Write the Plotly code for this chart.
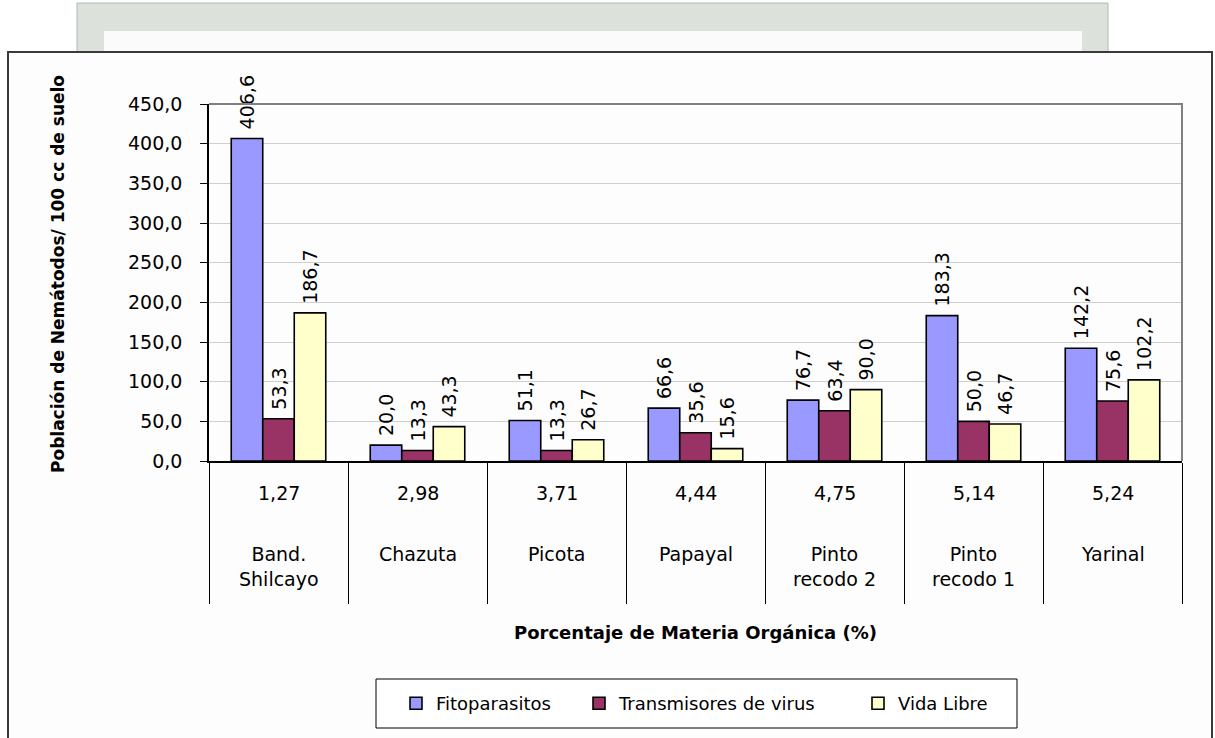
import plotly.graph_objects as go

# ---- data ----
sites = ["Band.<br>Shilcayo", "Chazuta", "Picota", "Papayal",
         "Pinto<br>recodo 2", "Pinto<br>recodo 1", "Yarinal"]
organic_matter = ["1,27", "2,98", "3,71", "4,44", "4,75", "5,14", "5,24"]
fitoparasitos = [406.6, 20.0, 51.1, 66.6, 76.7, 183.3, 142.2]
transmisores = [53.3, 13.3, 13.3, 35.6, 63.4, 50.0, 75.6]
vida_libre = [186.7, 43.3, 26.7, 15.6, 90.0, 46.7, 102.2]
series_names = ["Fitoparasitos", "Transmisores de virus", "Vida Libre"]
series_colors = ["#9999FF", "#993366", "#FFFFCC"]
y_ticks = [0, 50, 100, 150, 200, 250, 300, 350, 400, 450]

# ---- page geometry (pixels) ----
FIG_W, FIG_H = 1215, 738
PL, PR, PT, PB = 209, 1182, 104, 461   # plot area edges
PW, PH = PR - PL, PB - PT
FONT = "DejaVu Sans"


def xp(px):
    return (px - PL) / PW


def yp(py):
    return (PB - py) / PH


fig = go.Figure()
for name, vals, col, leg in zip(series_names,
                                [fitoparasitos, transmisores, vida_libre],
                                series_colors, ["legend", "legend2", "legend3"]):
    fig.add_trace(go.Bar(
        x=sites, y=vals, name=name, legend=leg,
        marker=dict(color=col, line=dict(color="black", width=1.6)),
        # a non-breaking space keeps the rotated value clear of the bar top
        texttemplate="\u00a0%{y:.1f}", textposition="outside", textangle=-90,
        textfont=dict(family=FONT, size=19, color="black"),
        constraintext="none", cliponaxis=False,
    ))

shapes = [
    # grey backdrop strip at the top of the page
    dict(type="rect", xref="paper", yref="paper",
         x0=xp(77), x1=xp(1108), y0=yp(60), y1=yp(3),
         fillcolor="#dde1dc", line=dict(color="#b4b8b3", width=1), layer="below"),
    dict(type="rect", xref="paper", yref="paper",
         x0=xp(104), x1=xp(1082), y0=yp(60), y1=yp(31),
         fillcolor="#fbfbfb", line=dict(width=0), layer="below"),
    # chart frame
    dict(type="rect", xref="paper", yref="paper",
         x0=xp(8), x1=xp(1212), y0=yp(760), y1=yp(52),
         fillcolor="#fdfdfd", line=dict(color="#3a3a3a", width=2), layer="below"),
    # plot area border (top and right)
    dict(type="path", xref="paper", yref="paper",
         path="M 0,1 L 1,1 L 1,0",
         line=dict(color="#808080", width=2), layer="above"),
    # legend box
    dict(type="rect", xref="paper", yref="paper",
         x0=xp(376), x1=xp(1017), y0=yp(728), y1=yp(679),
         fillcolor="white", line=dict(color="black", width=1), layer="below"),
]

annotations = []
for s, om in zip(sites, organic_matter):
    annotations.append(dict(x=s, xref="x", y=yp(493), yref="paper", text=om,
                            showarrow=False, yanchor="middle",
                            font=dict(family=FONT, size=19, color="black")))
    annotations.append(dict(x=s, xref="x", y=yp(541), yref="paper", text=s,
                            showarrow=False, yanchor="top",
                            font=dict(family=FONT, size=19, color="black")))

annotations.append(dict(x=xp(695), y=yp(632), xref="paper", yref="paper",
                        text="<b>Porcentaje de Materia Orgánica (%)</b>",
                        showarrow=False, xanchor="center", yanchor="middle",
                        font=dict(family=FONT, size=18, color="black")))
annotations.append(dict(x=xp(58), y=yp(274), xref="paper", yref="paper",
                        text="<b>Población de Nemátodos/ 100 cc de suelo</b>",
                        showarrow=False, textangle=-90,
                        xanchor="center", yanchor="middle",
                        font=dict(family=FONT, size=17, color="black")))

legend_style = dict(orientation="h", xanchor="left", yanchor="middle",
                    bgcolor="rgba(0,0,0,0)", borderwidth=0,
                    font=dict(family=FONT, size=18, color="black"),
                    y=yp(703.5))

fig.update_layout(
    width=FIG_W, height=FIG_H,
    margin=dict(l=PL, r=FIG_W - PR, t=PT, b=FIG_H - PB),
    paper_bgcolor="white", plot_bgcolor="white",
    separators=",.",
    barmode="group", bargap=0.32, bargroupgap=0,
    showlegend=True,
    legend=dict(legend_style, x=xp(396)),
    legend2=dict(legend_style, x=xp(579)),
    legend3=dict(legend_style, x=xp(858)),
    shapes=shapes, annotations=annotations,
    xaxis=dict(type="category", showticklabels=False,
               showline=True, linecolor="black", linewidth=1.5,
               ticks="outside", tickson="boundaries", ticklen=141,
               tickcolor="black", tickwidth=1, showgrid=False),
    yaxis=dict(range=[0, 450], tickvals=y_ticks, tickformat=".1f",
               showline=True, linecolor="black", linewidth=1.5,
               ticks="outside", ticklen=7, tickcolor="black",
               ticklabelstandoff=14,
               tickfont=dict(family=FONT, size=19, color="black"),
               showgrid=True, gridcolor="#cfcfcf", gridwidth=1,
               zeroline=False),
)

fig.write_html("out.html")
